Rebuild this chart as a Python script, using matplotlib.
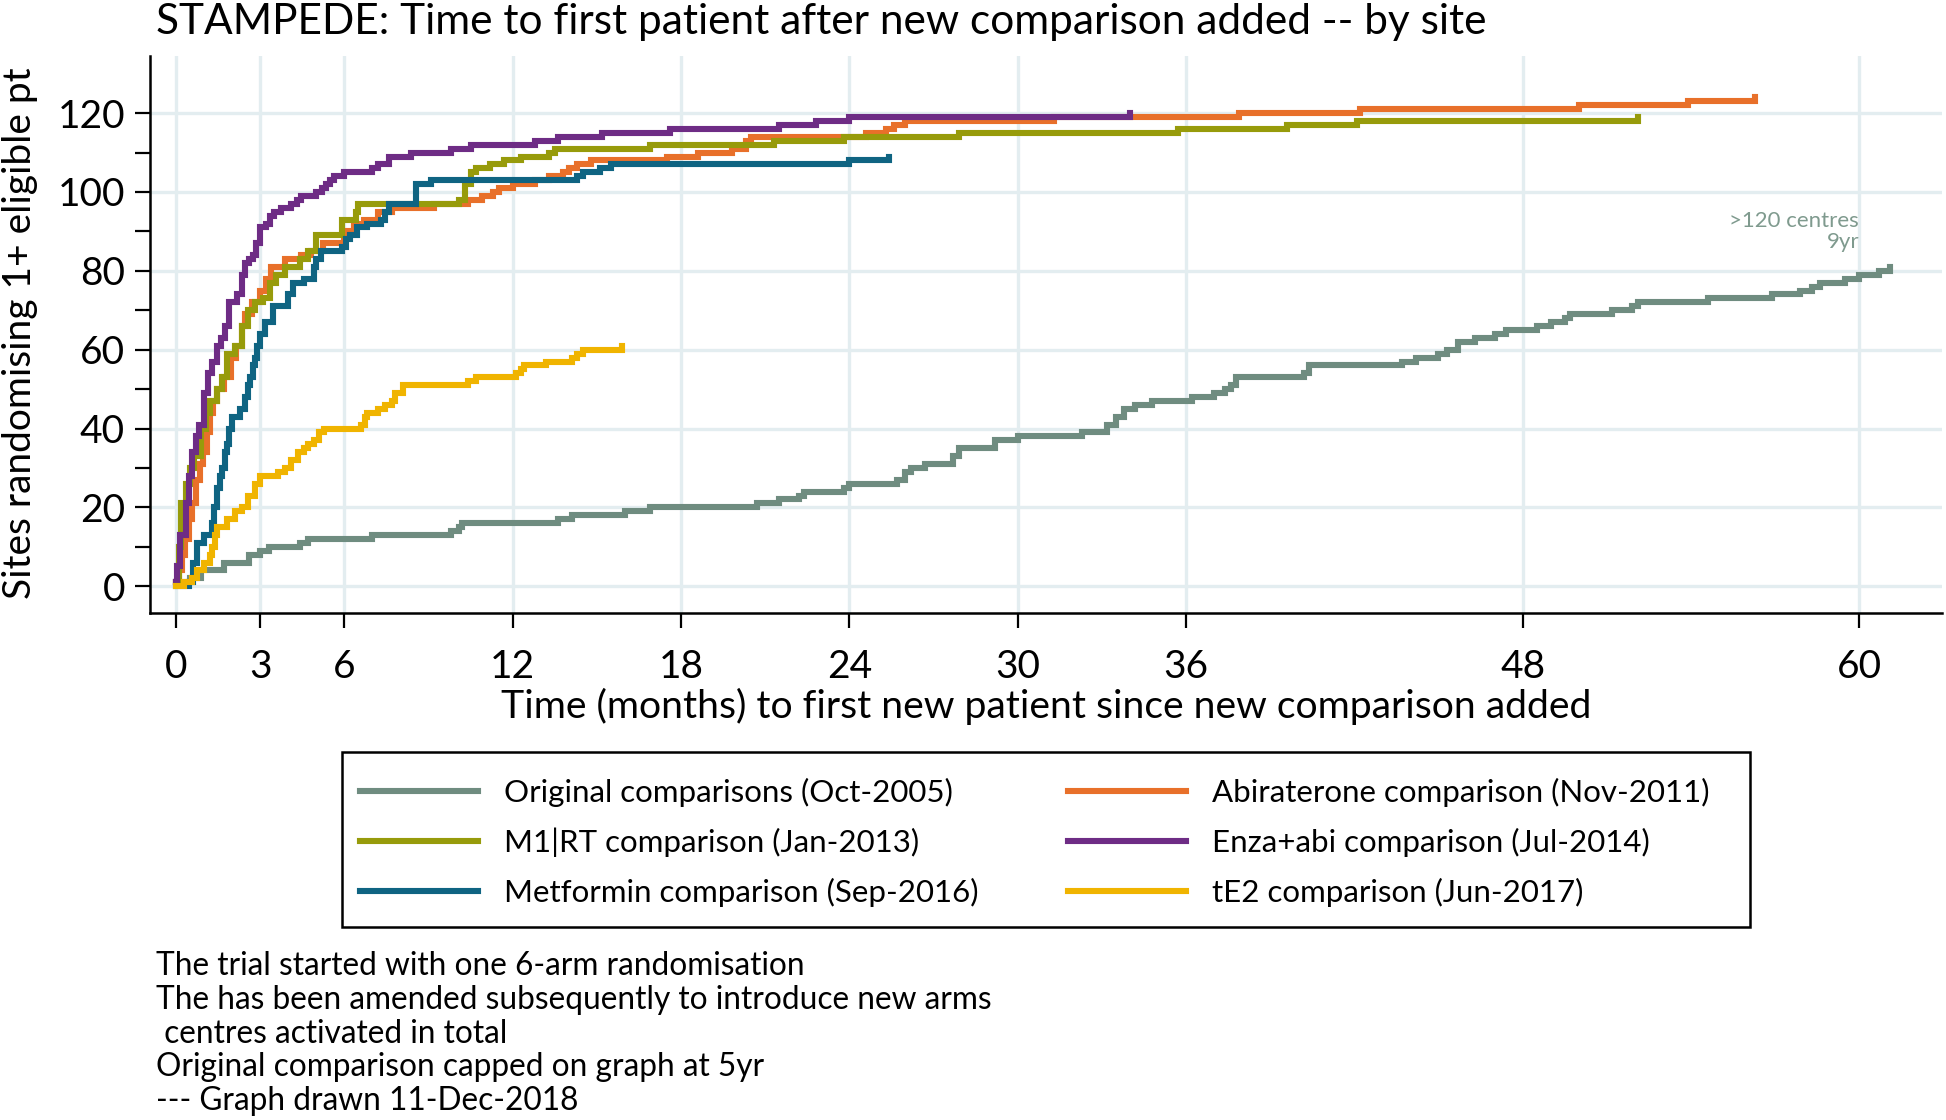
import matplotlib
matplotlib.use("Agg")
import matplotlib.pyplot as plt
from matplotlib.lines import Line2D
from matplotlib.patches import Rectangle

plt.rcParams['font.family'] = ['Lato', 'DejaVu Sans']

# ---------------- data (months since comparison added, cumulative sites) ----------------
orig_x = [0.0, 0.5, 0.9, 1.7, 2.6, 3.0, 3.3, 4.4, 4.7, 7.0, 9.8, 10.1, 10.2, 13.6, 14.1, 16.0, 16.9,
          20.7, 21.5, 22.2, 22.4, 23.8, 24.0, 25.7, 26.0, 26.2, 26.7, 27.7, 27.9, 29.2, 30.0, 32.3,
          33.2, 33.5, 33.8, 34.2, 34.8, 36.2, 37.0, 37.4, 37.6, 37.8, 40.2, 40.4, 43.7, 44.2, 45.0,
          45.3, 45.7, 46.3, 47.0, 47.4, 48.5, 49.0, 49.5, 49.7, 51.2, 51.9, 52.1, 54.6, 56.9, 57.9,
          58.3, 58.6, 59.5, 60.0, 60.7, 61.1]
orig_y = [1, 2, 4, 6, 8, 9, 10, 11, 12, 13, 14, 15, 16, 17, 18, 19, 20,
          21, 22, 23, 24, 25, 26, 27, 29, 30, 31, 33, 35, 37, 38, 39,
          41, 43, 45, 46, 47, 48, 49, 50, 51, 53, 54, 56, 57, 58, 59,
          60, 62, 63, 64, 65, 66, 67, 68, 69, 70, 71, 72, 73, 74, 75,
          76, 77, 78, 79, 80, 81]

abi_x = [0.0, 0.1, 0.2, 0.3, 0.45, 0.55, 0.7, 0.85, 0.95, 1.1, 1.2, 1.3, 1.45, 1.7, 1.95, 2.15,
         2.35, 2.45, 2.7, 3.0, 3.2, 3.4, 3.9, 4.45, 4.8, 5.25, 6.0, 6.35, 6.7, 7.2, 7.7, 9.2, 10.4,
         10.9, 11.3, 11.5, 12.0, 12.8, 13.3, 13.8, 14.0, 14.3, 14.8, 17.5, 18.6, 19.8, 20.3, 20.5,
         24.6, 25.3, 25.6, 26.0, 31.3, 37.9, 42.2, 50.0, 53.9, 56.3]
abi_y = [1, 4, 8, 12, 17, 21, 27, 31, 34, 39, 44, 47, 50, 53, 58, 61,
         66, 69, 72, 75, 78, 81, 83, 84, 85, 87, 90, 92, 93, 95, 96, 97, 98,
         99, 100, 101, 102, 103, 104, 105, 106, 107, 108, 109, 110, 111, 113, 114,
         115, 116, 117, 118, 119, 120, 121, 122, 123, 124]

m1rt_x = [0.0, 0.1, 0.18, 0.36, 0.5, 0.64, 0.9, 1.05, 1.2, 1.45, 1.64, 1.82, 2.1, 2.36, 2.55,
          2.82, 3.1, 3.36, 3.55, 3.9, 4.4, 4.7, 5.0, 5.9, 6.4, 6.5, 10.1, 10.3, 10.5, 10.7, 11.2,
          11.7, 12.3, 13.3, 13.5, 16.9, 21.3, 23.8, 27.9, 35.7, 39.6, 42.1, 52.1]
m1rt_y = [1, 10, 21, 26, 30, 33, 40, 44, 47, 50, 53, 59, 61, 66, 70,
          72, 73, 77, 79, 81, 83, 85, 89, 93, 95, 97, 98, 102, 105, 106, 107,
          108, 109, 110, 111, 112, 113, 114, 115, 116, 117, 118, 119]

enza_x = [0.0, 0.05, 0.15, 0.36, 0.45, 0.55, 0.7, 0.82, 1.0, 1.15, 1.27, 1.45, 1.6, 1.73, 1.9,
          2.18, 2.35, 2.45, 2.6, 2.73, 2.85, 3.0, 3.2, 3.36, 3.5, 3.73, 4.1, 4.3, 4.45, 5.0, 5.2,
          5.36, 5.5, 5.64, 6.0, 7.0, 7.2, 7.6, 8.36, 9.8, 10.5, 12.8, 13.6, 15.2, 17.6, 21.5, 22.8,
          24.0, 34.0]
enza_y = [1, 5, 13, 21, 28, 34, 38, 41, 49, 54, 57, 61, 63, 66, 72,
          74, 79, 82, 83, 84, 87, 91, 92, 94, 95, 96, 97, 98, 99, 100, 101,
          102, 103, 104, 105, 106, 107, 109, 110, 111, 112, 113, 114, 115, 116, 117, 118,
          119, 120]

metf_x = [0.0, 0.45, 0.6, 0.73, 1.0, 1.27, 1.35, 1.45, 1.55, 1.64, 1.75, 1.82, 1.9, 2.0, 2.27,
          2.45, 2.55, 2.64, 2.75, 2.82, 2.9, 3.0, 3.18, 3.45, 4.0, 4.18, 4.55, 4.9, 5.0, 5.18, 5.9,
          6.05, 6.2, 6.45, 6.8, 7.3, 7.45, 7.6, 8.55, 9.1, 14.3, 14.5, 15.1, 15.5, 24.0, 25.4]
metf_y = [0, 1, 6, 11, 13, 16, 20, 25, 28, 30, 34, 36, 40, 43, 45,
          48, 51, 53, 56, 58, 61, 64, 67, 71, 74, 77, 78, 81, 83, 85, 86,
          88, 89, 91, 92, 93, 95, 97, 102, 103, 104, 105, 106, 107, 108, 109]

te2_x = [0.0, 0.27, 0.55, 0.73, 1.0, 1.2, 1.27, 1.4, 1.45, 1.82, 2.1, 2.36, 2.55, 2.82, 3.0,
         3.64, 3.9, 4.1, 4.36, 4.55, 4.7, 4.9, 5.1, 5.27, 6.6, 6.75, 6.8, 7.2, 7.45, 7.7, 7.8, 8.1,
         10.4, 10.7, 12.1, 12.3, 12.4, 13.2, 14.1, 14.3, 14.5, 15.9]
te2_y = [0, 1, 2, 4, 6, 8, 10, 13, 15, 17, 19, 20, 23, 26, 28,
         29, 30, 32, 34, 35, 36, 37, 39, 40, 41, 43, 44, 45, 46, 47, 49, 51,
         52, 53, 54, 55, 56, 57, 58, 59, 60, 61]

labels = ["Original comparisons (Oct-2005)", "M1|RT comparison (Jan-2013)",
          "Metformin comparison (Sep-2016)", "Abiraterone comparison (Nov-2011)",
          "Enza+abi comparison (Jul-2014)", "tE2 comparison (Jun-2017)"]
colors = ["#6f8c80", "#979b0b", "#0f6482", "#e8702a", "#6e2c85", "#f0b400"]

x_ticks = [0, 3, 6, 12, 18, 24, 30, 36, 48, 60]
y_ticks = [0, 20, 40, 60, 80, 100, 120]

title = "STAMPEDE: Time to first patient after new comparison added -- by site"
xlabel = "Time (months) to first new patient since new comparison added"
ylabel = "Sites randomising 1+ eligible pt"
note_lines = ["The trial started with one 6-arm randomisation",
              "The has been amended subsequently to introduce new arms",
              " centres activated in total",
              "Original comparison capped on graph at 5yr",
              "--- Graph drawn 11-Dec-2018"]
annot = ">120 centres\n9yr"

# ---------------- figure ----------------
W, H = 1946, 1120
fig = plt.figure(figsize=(W / 100, H / 100), dpi=100)
ax = fig.add_axes([150 / W, 1 - 613 / H, (1942 - 150) / W, (613 - 56) / H])

series = [(orig_x, orig_y), (m1rt_x, m1rt_y), (metf_x, metf_y),
          (abi_x, abi_y), (enza_x, enza_y), (te2_x, te2_y)]
draw_order = [0, 3, 1, 4, 2, 5]
lw = 4.4
for i in draw_order:
    xs, ys = series[i]
    ax.step(xs, ys, where='post', color=colors[i], lw=lw, solid_joinstyle='miter', zorder=3)

ax.set_xlim(-0.93, 62.95)
ax.set_ylim(-6.8, 134.5)
ax.set_xticks(x_ticks)
ax.set_yticks(y_ticks)
ax.set_yticks([10, 30, 50, 70, 90, 110], minor=True)
ax.grid(True, which='major', color='#e3edf0', lw=2.4, zorder=0)
for s in ['top', 'right']:
    ax.spines[s].set_visible(False)
for s in ['left', 'bottom']:
    ax.spines[s].set_linewidth(1.8)
ax.tick_params(axis='y', which='major', labelsize=28, length=11, width=1.6, pad=7)
ax.tick_params(axis='y', which='minor', length=11, width=1.6)
ax.tick_params(axis='x', which='major', labelsize=28, length=11, width=1.6, pad=15)

ax.text(60, 90, annot, ha='right', va='center', color='#7f9a8e', fontsize=16,
        linespacing=1.1, zorder=4)

fig.text(156 / W, 1 - 22 / H, title, ha='left', va='center', fontsize=30.5)
fig.text(1046 / W, 1 - 706 / H, xlabel, ha='center', va='center', fontsize=28.2)
fig.text(20 / W, 1 - 333 / H, ylabel, ha='center', va='center', rotation=90, fontsize=28)

handles = [Line2D([], [], color=c, lw=lw) for c in colors]
leg = fig.legend(handles, labels, ncol=2, loc='upper left',
                 bbox_to_anchor=(360 / W, 1 - 778 / H),
                 bbox_transform=fig.transFigure,
                 fontsize=22.5, frameon=False,
                 handlelength=3.78, handletextpad=0.83, labelspacing=0.66,
                 borderpad=0, borderaxespad=0, columnspacing=2.85)
fig.patches.append(Rectangle((342 / W, 1 - 927 / H), (1750 - 342) / W, (927 - 752) / H,
                             transform=fig.transFigure, fill=False, edgecolor='black',
                             lw=1.8, zorder=5))

ys_note = [966, 1000, 1034, 1067, 1101]
for line, yy in zip(note_lines, ys_note):
    fig.text(156 / W, 1 - yy / H, line, ha='left', va='center', fontsize=22.8)

fig.savefig("out.png", dpi=100, facecolor='white')
